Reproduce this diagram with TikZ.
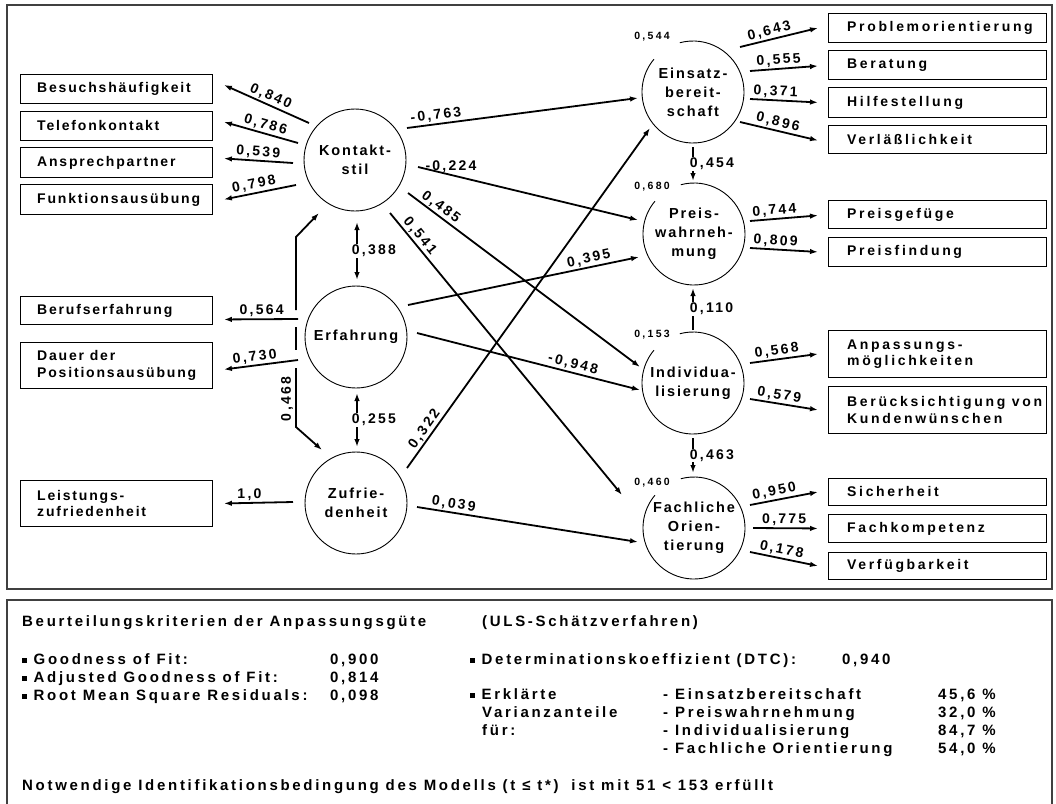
\documentclass[tikz,border=0pt]{standalone}
\usepackage{fontspec}
\setmainfont{Liberation Sans}
\newfontfamily\fA{Liberation Sans}[LetterSpace=13]
\newfontfamily\fD{Liberation Sans}[LetterSpace=19]
\newfontfamily\fB{Liberation Sans}[LetterSpace=16]
\newfontfamily\fE{Liberation Sans}[LetterSpace=18]
\newfontfamily\fC{Liberation Sans}[LetterSpace=22]
\usetikzlibrary{calc,arrows.meta}
\newcommand{\mybul}{\rule[1.5pt]{4.5pt}{4.5pt}}
\tikzset{
 frame/.style={draw=black!75, line width=1.4pt},
 lv/.style={circle, minimum size=102pt, inner sep=0pt, align=center, font=\fA\bfseries\fontsize{14.5}{19}\selectfont},
 lvd/.style={lv, draw, line width=0.9pt},
 obox/.style={draw, line width=0.9pt, rectangle, inner sep=0pt, anchor=north west},
 btxt/.style={inner sep=0pt, align=left, anchor=west, font=\fA\bfseries\fontsize{14}{16.5}\selectfont},
 rtxt/.style={btxt, font=\fD\bfseries\fontsize{14}{16.5}\selectfont},
 lbl/.style={inner sep=1.5pt, font=\fB\bfseries\fontsize{14}{16}\selectfont},
 vlbl/.style={lbl, fill=white, anchor=west, inner sep=1pt},
 var/.style={inner sep=0pt, font=\fC\bfseries\fontsize{10.5}{12}\selectfont},
 pth/.style={line width=1.8pt, -{Latex[length=8pt,width=5.5pt]}},
 pthd/.style={line width=1.8pt, {Latex[length=8pt,width=5.5pt]}-{Latex[length=8pt,width=5.5pt]}},
 ln/.style={line width=1.8pt},
 bt/.style={inner sep=0pt, anchor=base west, font=\fE\bfseries\fontsize{15}{18}\selectfont},
}
\begin{document}
\begin{tikzpicture}[x=1pt,y=-1pt]
\useasboundingbox (0,0) rectangle (1056,803);
% frames
\draw[frame] (7,5) rectangle (1052,589);
\draw[frame] (7,806) -- (7,600) -- (1052,600) -- (1052,806);

% latent variables
\node[lvd] (k) at (355,160) {Kontakt-\\stil};
\node[lvd] (e) at (356,337) {Erfahrung};
\node[lvd] (z) at (356,503) {Zufrie-\\denheit};
\node[lv] (ei) at (693,92) {Einsatz-\\bereit-\\schaft};
\node[lv] (pr) at (694,234) {Preis-\\wahrneh-\\mung};
\node[lv] (in) at (693,383) {Individua-\\lisierung};
\node[lv] (fa) at (694,528) {Fachliche\\Orien-\\tierung};
\foreach \n in {ei,pr,in,fa}
  \draw[line width=0.9pt] ($(\n)+(255:51)$) arc[start angle=255, end angle=580, radius=51];

\node[var] (v1) at (652,37) {0,544};
\node[var] (v2) at (652,187) {0,680};
\node[var] (v3) at (652,335) {0,153};
\node[var] (v4) at (652,483) {0,460};

% left boxes
\node[obox, minimum width=192pt, minimum height=29pt] (b1) at (20,74) {};
\node[obox, minimum width=192pt, minimum height=29pt] (b2) at (20,111) {};
\node[obox, minimum width=192pt, minimum height=30pt] (b3) at (20,147) {};
\node[obox, minimum width=192pt, minimum height=30pt] (b4) at (20,184) {};
\node[obox, minimum width=192pt, minimum height=28pt] (b5) at (20,296) {};
\node[obox, minimum width=192pt, minimum height=46pt] (b6) at (20,342) {};
\node[obox, minimum width=192pt, minimum height=46pt] (b7) at (20,480) {};
\node[btxt] (b1t) at ($(b1.west)+(17,0)$) {Besuchshäufigkeit};
\node[btxt] (b2t) at ($(b2.west)+(17,0)$) {Telefonkontakt};
\node[btxt] (b3t) at ($(b3.west)+(17,0)$) {Ansprechpartner};
\node[btxt] (b4t) at ($(b4.west)+(17,0)$) {Funktionsausübung};
\node[btxt] (b5t) at ($(b5.west)+(17,0)$) {Berufserfahrung};
\node[btxt] (b6t) at ($(b6.west)+(17,0)$) {Dauer der\\Positionsausübung};
\node[btxt] (b7t) at ($(b7.west)+(17,0)$) {Leistungs-\\zufriedenheit};

% right boxes
\node[obox, minimum width=218pt, minimum height=29pt] (p1) at (828,13) {};
\node[obox, minimum width=218pt, minimum height=29pt] (p2) at (828,50) {};
\node[obox, minimum width=218pt, minimum height=30pt] (p3) at (828,87) {};
\node[obox, minimum width=218pt, minimum height=28pt] (p4) at (828,125) {};
\node[obox, minimum width=218pt, minimum height=28pt] (p5) at (828,200) {};
\node[obox, minimum width=218pt, minimum height=29pt] (p6) at (828,237) {};
\node[obox, minimum width=218pt, minimum height=47pt] (p7) at (828,330) {};
\node[obox, minimum width=218pt, minimum height=47pt] (p8) at (828,386) {};
\node[obox, minimum width=218pt, minimum height=27pt] (p9) at (828,478) {};
\node[obox, minimum width=218pt, minimum height=28pt] (p10) at (828,514) {};
\node[obox, minimum width=218pt, minimum height=27pt] (p11) at (828,552) {};
\node[rtxt] (p1t) at ($(p1.west)+(19,0)$) {Problemorientierung};
\node[rtxt] (p2t) at ($(p2.west)+(19,0)$) {Beratung};
\node[rtxt] (p3t) at ($(p3.west)+(19,0)$) {Hilfestellung};
\node[rtxt] (p4t) at ($(p4.west)+(19,0)$) {Verläßlichkeit};
\node[rtxt] (p5t) at ($(p5.west)+(19,0)$) {Preisgefüge};
\node[rtxt] (p6t) at ($(p6.west)+(19,0)$) {Preisfindung};
\node[rtxt] (p7t) at ($(p7.west)+(19,0)$) {Anpassungs-\\möglichkeiten};
\node[rtxt] (p8t) at ($(p8.west)+(19,0)$) {Berücksichtigung von\\Kundenwünschen};
\node[rtxt] (p9t) at ($(p9.west)+(19,0)$) {Sicherheit};
\node[rtxt] (p10t) at ($(p10.west)+(19,0)$) {Fachkompetenz};
\node[rtxt] (p11t) at ($(p11.west)+(19,0)$) {Verfügbarkeit};

% Kontaktstil -> indicators
\draw[pth] ($(k)+(-46,-37)$) -- node[lbl,sloped,above,pos=.49]{0,840} ($(b1.east)+(11,-4)$);
\draw[pth] ($(k)+(-57,-17)$) -- node[lbl,sloped,above,pos=.47]{0,786} ($(b2.east)+(11,-4)$);
\draw[pth] ($(k)+(-62,3)$) -- node[lbl,sloped,above,pos=.51]{0,539} ($(b3.east)+(11,-4)$);
\draw[pth] ($(k)+(-59,25)$) -- node[lbl,sloped,above,pos=.56]{0,798} ($(b4.east)+(11,0)$);
% Erfahrung -> indicators
\draw[pth] ($(e)+(-58,-18)$) -- node[lbl,above,pos=.49]{0,564} ($(b5.east)+(11,9)$);
\draw[pth] ($(e)+(-58,23)$) -- node[lbl,sloped,above,pos=.57]{0,730} ($(b6.east)+(11,4)$);
% Zufriedenheit -> indicator
\draw[pth] ($(z)+(-63,-1)$) -- node[lbl,above,pos=.63]{1,0} ($(b7.east)+(11,0)$);

% structural paths
\draw[pth] ($(k)+(52,-32)$) -- node[lbl,sloped,above,pos=.13]{-0,763} ($(ei)+(-55,6)$);
\draw[pth] ($(k)+(63,7)$) -- node[lbl,above,pos=.15]{-0,224} ($(pr)+(-56,-14)$);
\draw[pth] ($(k)+(53,33)$) -- node[lbl,sloped,above,pos=.12]{0,485} ($(in)+(-53,-16)$);
\draw[pth] ($(k)+(35,53)$) -- node[lbl,sloped,above,pos=.1]{0,541} ($(fa)+(-72,-33)$);
\draw[pth] ($(e)+(52,-32)$) -- node[lbl,sloped,above,pos=.79]{0,395} ($(pr)+(-55,23)$);
\draw[pth] ($(e)+(61,-4)$) -- node[lbl,sloped,above,pos=.69]{-0,948} ($(in)+(-53,7)$);
\draw[pth] ($(z)+(51,-35)$) -- node[lbl,sloped,above,pos=.1]{0,322} ($(ei)+(-43,36)$);
\draw[pth] ($(z)+(61,4)$) -- node[lbl,sloped,above,pos=.16]{0,039} ($(fa)+(-56,14)$);

% left vertical path
\draw[pth] ($(e)+(-60,-27)$) -- ($(e)+(-60,-100)$) -- ($(k)+(-36,53)$);
\draw[ln] ($(e)+(-60,-10)$) -- ($(e)+(-60,13)$);
\draw[pth] ($(e)+(-60,31)$) -- ($(e)+(-60,90)$) -- ($(z)+(-34,-53)$);
\node[lbl, rotate=90] (l468) at (287,399) {0,468};

% correlations
\draw[pthd] ($(k)+(2,62)$) -- node[vlbl,xshift=-7pt]{0,388} ($(e)+(1,-57)$);
\draw[pthd] ($(e)+(1,56)$) -- node[vlbl,xshift=-7pt]{0,255} ($(z)+(1,-56)$);

% right verticals
\draw[pth] ($(ei)+(0,55)$) -- node[vlbl,xshift=-5pt]{0,454} ($(pr)+(-1,-53)$);
\draw[pth] ($(in)+(0,-53)$) -- node[vlbl,xshift=-5pt]{0,110} ($(pr)+(-1,54)$);
\draw[pth] ($(in)+(0,55)$) -- node[vlbl,xshift=-5pt]{0,463} ($(fa)+(-1,-55)$);

% right indicators
\draw[pth] ($(ei)+(47,-45)$) -- node[lbl,sloped,above,pos=.4]{0,643} ($(p1.west)+(-10,0)$);
\draw[pth] ($(ei)+(57,-21)$) -- node[lbl,sloped,above,pos=.43]{0,555} ($(p2.west)+(-10,1)$);
\draw[pth] ($(ei)+(57,7)$) -- node[lbl,sloped,above,pos=.37]{0,371} ($(p3.west)+(-10,0)$);
\draw[pth] ($(ei)+(47,30)$) -- node[lbl,sloped,above,pos=.46]{0,896} ($(p4.west)+(-10,1)$);
\draw[pth] ($(pr)+(56,-13)$) -- node[lbl,sloped,above,pos=.37]{0,744} ($(p5.west)+(-10,1)$);
\draw[pth] ($(pr)+(56,14)$) -- node[lbl,sloped,above,pos=.37]{0,809} ($(p6.west)+(-10,0)$);
\draw[pth] ($(in)+(57,-20)$) -- node[lbl,sloped,above,pos=.41]{0,568} ($(p7.west)+(-10,0)$);
\draw[pth] ($(in)+(57,16)$) -- node[lbl,sloped,above,pos=.41]{0,579} ($(p8.west)+(-10,0)$);
\draw[pth] ($(fa)+(56,-23)$) -- node[lbl,sloped,above,pos=.38]{0,950} ($(p9.west)+(-10,0)$);
\draw[pth] ($(fa)+(59,0)$) -- node[lbl,sloped,above,pos=.48]{0,775} ($(p10.west)+(-10,0)$);
\draw[pth] ($(fa)+(56,24)$) -- node[lbl,sloped,above,pos=.44]{0,178} ($(p11.west)+(-10,0)$);

% bottom panel
\node[bt] (t1) at (22,626) {Beurteilungskriterien der Anpassungsgüte};
\node[bt] (t2) at (482,626) {(ULS-Schätzverfahren)};
\node[bt] (g1) at (22,664) {\mybul\hspace{7pt}Goodness of Fit:};
\node[bt] (g2) at (22,682) {\mybul\hspace{7pt}Adjusted Goodness of Fit:};
\node[bt] (g3) at (22,700) {\mybul\hspace{7pt}Root Mean Square Residuals:};
\node[bt] (g1v) at (330,664) {0,900};
\node[bt] (g2v) at (330,682) {0,814};
\node[bt] (g3v) at (330,700) {0,098};
\node[bt] (d1) at (470,664) {\mybul\hspace{7pt}Determinationskoeffizient (DTC):};
\node[bt] (d1v) at (842,664) {0,940};
\node[bt] (r1) at (470,699) {\mybul\hspace{7pt}Erklärte};
\node[bt] (r2) at (482,717) {Varianzanteile};
\node[bt] (r3) at (482,735) {für:};
\node[bt] (s1) at (663,699) {- Einsatzbereitschaft};
\node[bt] (s2) at (663,717) {- Preiswahrnehmung};
\node[bt] (s3) at (663,735) {- Individualisierung};
\node[bt] (s4) at (663,753) {- Fachliche Orientierung};
\node[bt] (s1v) at (938,699) {45,6 \%};
\node[bt] (s2v) at (938,717) {32,0 \%};
\node[bt] (s3v) at (938,735) {84,7 \%};
\node[bt] (s4v) at (938,753) {54,0 \%};
\node[bt] (nb) at (22,790) {Notwendige Identifikationsbedingung des Modells (t ≤ t*)\hspace{6pt} ist mit 51 < 153 erfüllt};
\end{tikzpicture}
\end{document}
